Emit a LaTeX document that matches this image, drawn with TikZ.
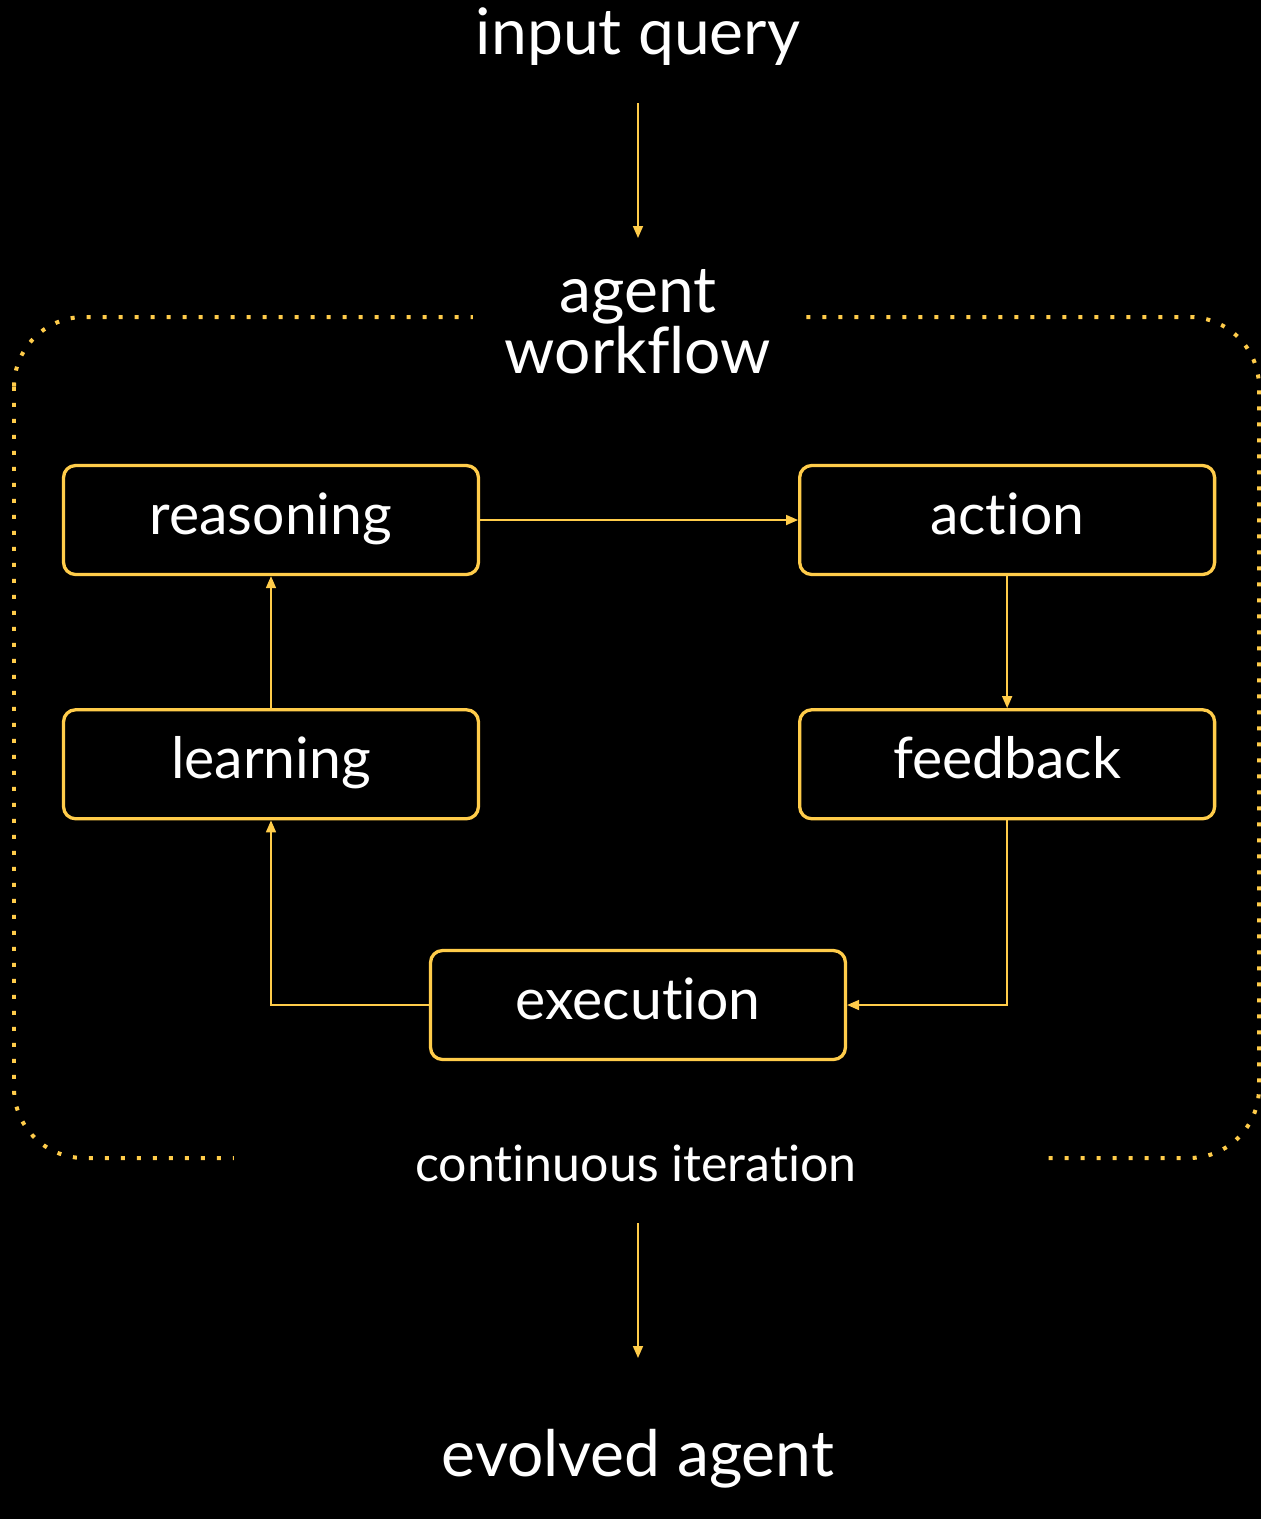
\documentclass[tikz,border=0pt]{standalone}
\usepackage{fontspec}
\setmainfont{Lato}[Ligatures=NoCommon]
\usetikzlibrary{positioning,arrows.meta,calc}
\definecolor{loopgold}{RGB}{255,204,74}

\begin{document}
\begin{tikzpicture}[
    x=0.02cm, y=-0.02cm,
    stage/.style={draw=loopgold, line width=0.066cm, rounded corners=0.24cm, fill=black,
      minimum width=8.3cm, minimum height=2.18cm, text=white,
      text height=23pt, text depth=6.6pt,
      font=\fontsize{32.5}{36}\selectfont},
    label/.style={text=white, align=center},
    flow/.style={draw=loopgold, line width=0.034cm, -{Triangle[length=0.24cm, width=0.2cm]}},
  ]
  \fill[black] (0,0) rectangle (1261,1519);
  \useasboundingbox (0,0) rectangle (1261,1519);

  % dotted frame round the loop
  \draw[loopgold, line width=0.08cm, dash pattern=on 0.08cm off 0.24cm, rounded corners=1.4cm]
    (14,317) rectangle (1259,1158);

  \node[label, font=\fontsize{36.5}{40}\selectfont] (query) at (638,37) {input query};
  \node[label, fill=black, minimum width=6.6cm, inner ysep=2pt,
    font=\fontsize{36.5}{32.3}\selectfont] (title) at (638,322) {agent\\workflow};
  \node[label, fill=black, minimum width=16.1cm, inner ysep=6pt,
    font=\fontsize{28.5}{30}\selectfont] (iter) at (636,1163) {continuous iteration};
  \node[label, font=\fontsize{36.5}{40}\selectfont] (evolved) at (638,1459) {evolved agent};

  \node[stage] (reasoning) at (271,520) {reasoning};
  \node[stage, right=6.36cm of reasoning] (action) {action};
  \node[stage, below=2.64cm of reasoning] (learning) {learning};
  \node[stage, below=2.64cm of action] (feedback) {feedback};
  \node[stage] (execution) at (638,1005) {execution};

  \coordinate (qa) at (638,103);
  \coordinate (qb) at (638,238);
  \coordinate (ea) at (638,1223);
  \coordinate (eb) at (638,1358);

  \draw[flow] (qa) -- (qb);
  \draw[flow] (reasoning) -- (action);
  \draw[flow] (action) -- (feedback);
  \draw[flow] (feedback.south) |- (execution.east);
  \draw[flow] (execution.west) -| (learning.south);
  \draw[flow] (learning) -- (reasoning);
  \draw[flow] (ea) -- (eb);
\end{tikzpicture}
\end{document}
